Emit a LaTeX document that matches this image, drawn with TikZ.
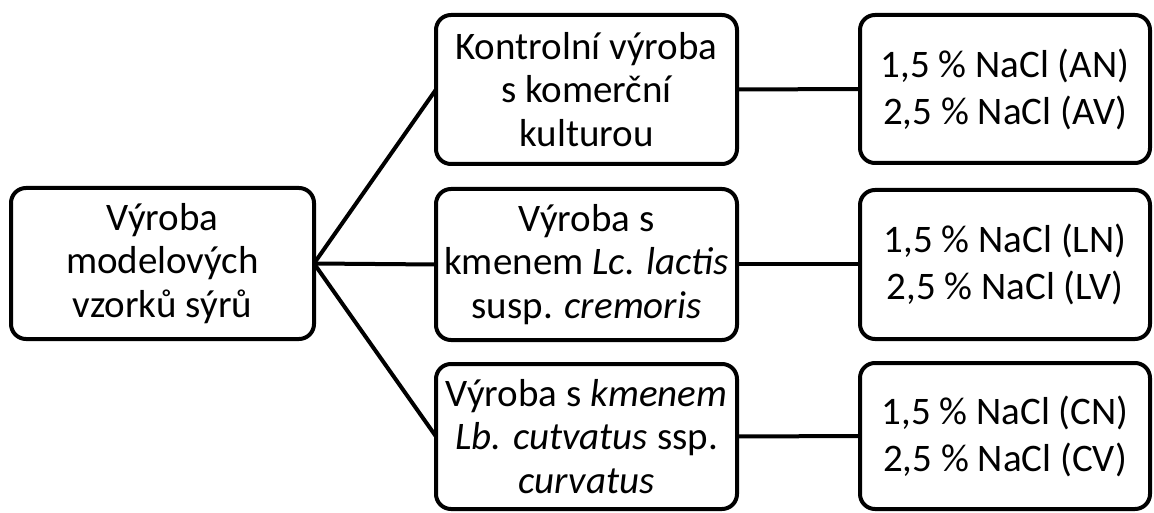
\documentclass[tikz,border=0pt]{standalone}
\usepackage{fontspec}
\setmainfont{Carlito}
\begin{document}
\begin{tikzpicture}[x=1pt,y=1pt,
  box/.style={draw=black,line width=4pt,rounded corners=15pt,inner sep=0pt,outer sep=0pt,align=center,
    font=\fontsize{39}{43.5}\selectfont},
  rbox/.style={box,font=\fontsize{39}{47}\selectfont},
  conn/.style={line width=4pt}]
\useasboundingbox (0,0) rectangle (1154,512);
\node[box,minimum width=303pt,minimum height=151pt] (L) at (162.5,248.5) {Výroba\\modelových\\vzorků sýrů};
\node[box,minimum width=301pt,minimum height=149pt] (M1) at (586.5,422.5) {Kontrolní výroba\\s komerční\\kulturou};
\node[box,minimum width=301pt,minimum height=151pt] (M2) at (586.5,247.5) {Výroba s\\kmenem \textit{Lc. lactis}\\susp. \textit{cremoris}};
\node[box,minimum width=301pt,minimum height=145pt] (M3) at (586.5,75.5) {Výroba s \textit{kmenem}\\\textit{Lb. cutvatus} ssp.\\\textit{curvatus}};
\node[rbox,minimum width=290pt,minimum height=148pt] (R1) at (1005,423) {1,5 \% NaCl (AN)\\2,5 \% NaCl (AV)};
\node[rbox,minimum width=290pt,minimum height=149pt] (R2) at (1005,247.5) {1,5 \% NaCl (LN)\\2,5 \% NaCl (LV)};
\node[rbox,minimum width=290pt,minimum height=146pt] (R3) at (1005,76) {1,5 \% NaCl (CN)\\2,5 \% NaCl (CV)};
\draw[conn] (L.east) -- (M1.west);
\draw[conn] (L.east) -- (M2.west);
\draw[conn] (L.east) -- (M3.west);
\draw[conn] (M1.east) -- (R1.west);
\draw[conn] (M2.east) -- (R2.west);
\draw[conn] (M3.east) -- (R3.west);
\end{tikzpicture}
\end{document}
